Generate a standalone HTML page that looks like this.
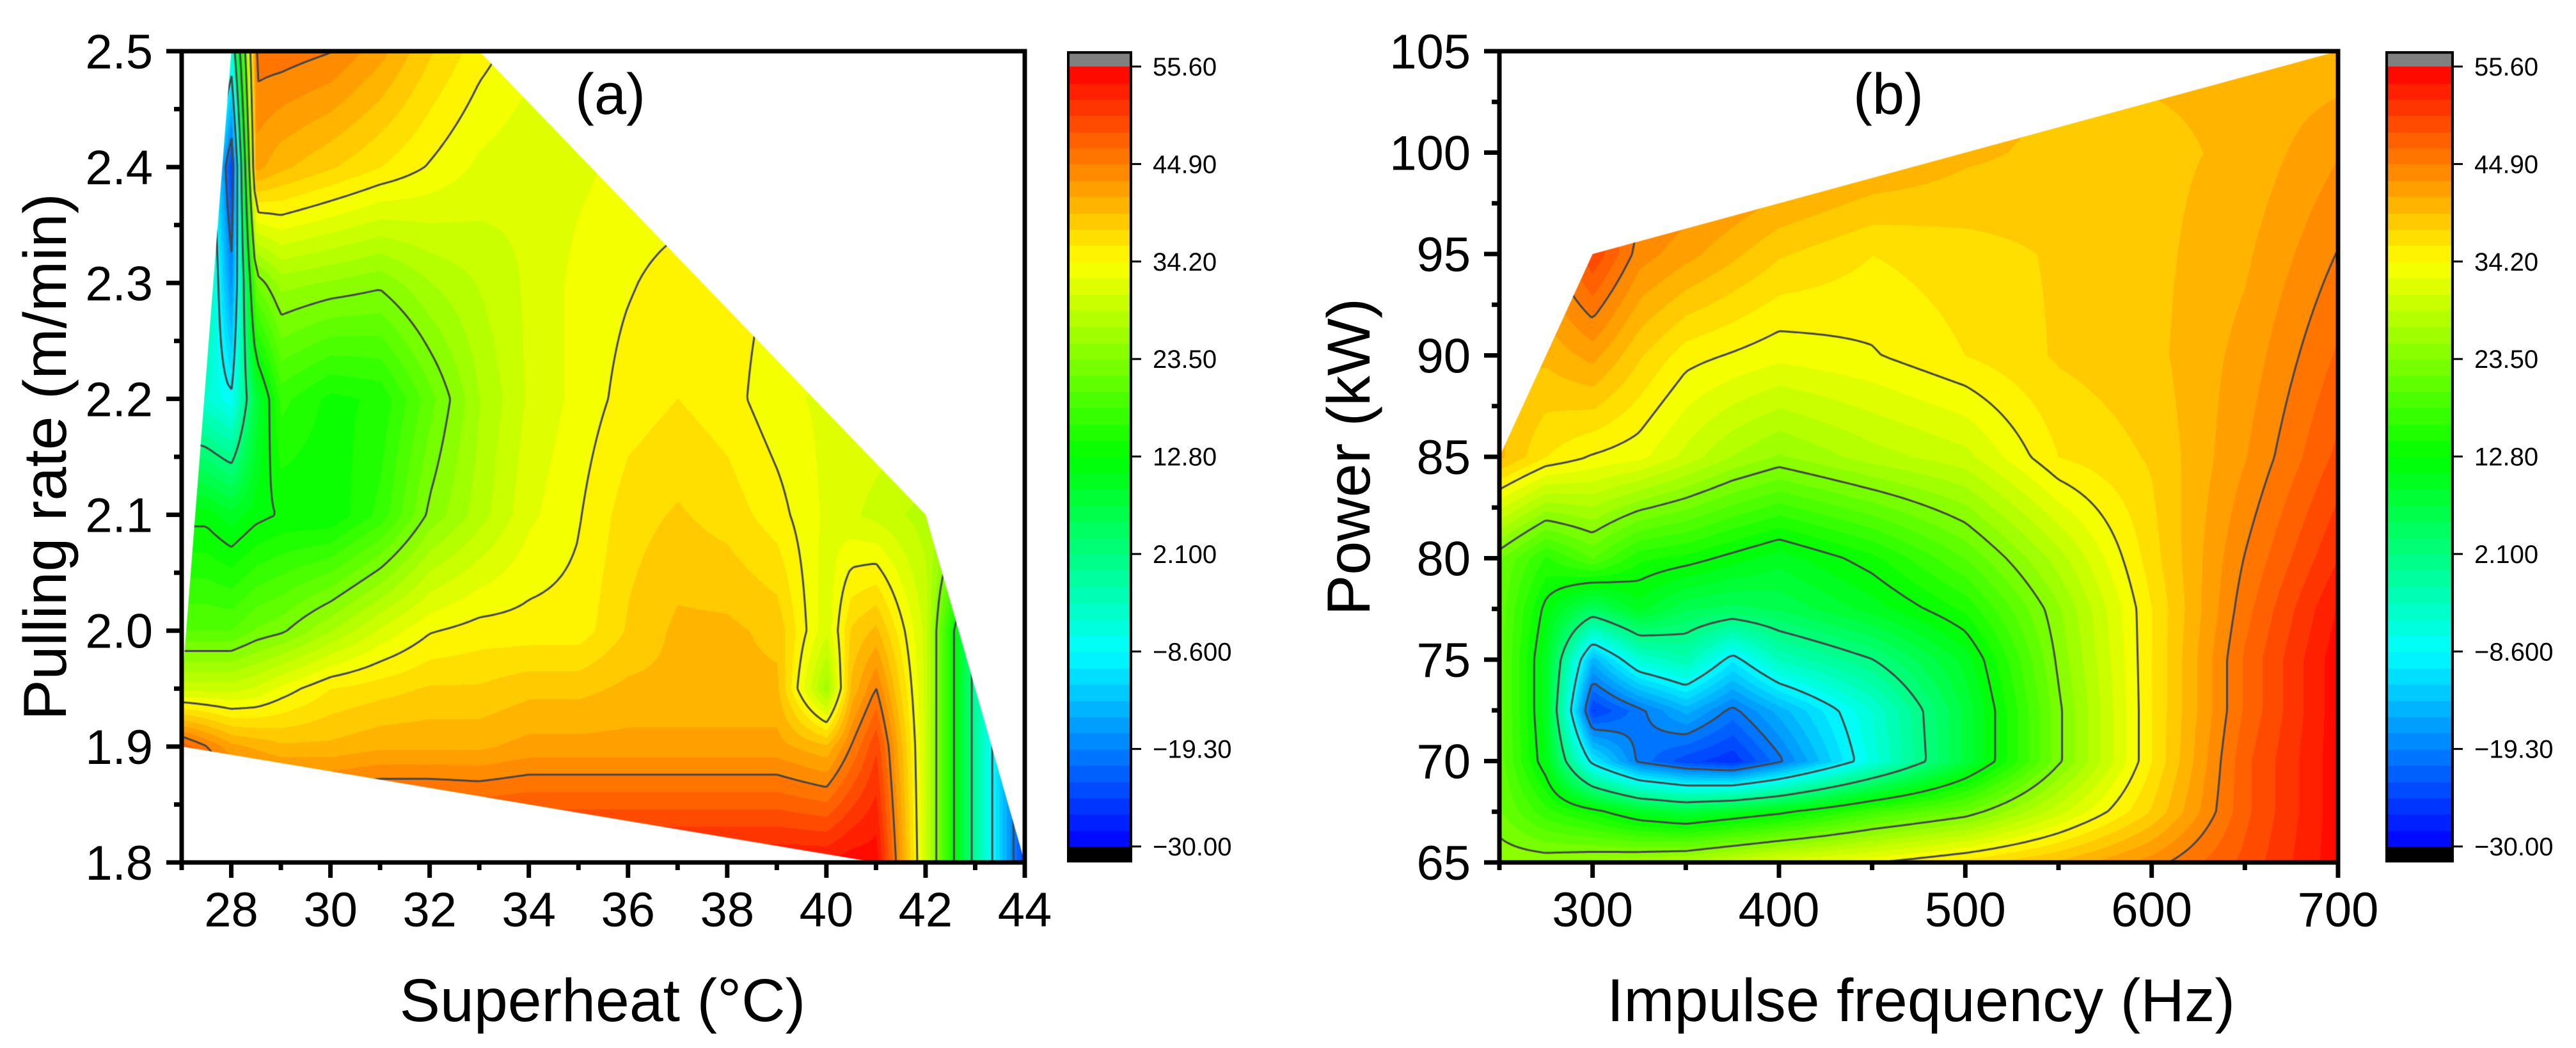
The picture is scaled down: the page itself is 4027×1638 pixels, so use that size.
<!DOCTYPE html>
<html><head><meta charset="utf-8">
<style>
html,body{margin:0;padding:0;background:#fff;}
#root{position:relative;width:4027px;height:1638px;overflow:hidden;background:#fff;font-family:"Liberation Sans",Arial,sans-serif;}
canvas{position:absolute;}
svg{position:absolute;left:0;top:0;}
</style></head>
<body>
<div id="root">
<canvas id="ca" style="left:284px;top:80px" width="1318" height="1268"></canvas>
<canvas id="cb" style="left:2344px;top:80px" width="1311" height="1268"></canvas>
<canvas id="cba" style="left:1668px;top:80px" width="102" height="1268"></canvas>
<canvas id="cbb" style="left:3729px;top:80px" width="107" height="1268"></canvas>
<svg id="ov" width="4027" height="1638"></svg>
</div>
<script>
// ---------- Panel (a) data ----------
const aX = [27,27.5,28,28.5,29,30,31,32,33,34,35,36,37,38,39,40,40.5,41,42,43,44];
const aY = [1.8,1.9,1.95,2.0,2.1,2.2,2.3,2.4,2.5];
const aZ = [
 [55,55,55,55,55,55,55,55,54,54,54,54,54,54,54,54,55,55,30,0,-25],
 [48,45,42,41,40,40,41,41,41,42,42,42,42,42,42,40,45,50,30,0,-25],
 [30,30,30,31,33,36,37,38,38,39,39,40,40,40,40,26,40,45,30,0,-25],
 [20,20,20,22,23,27,31,34,35,35,35,38,40,40,39,31,38,40,30,0,-25],
 [12,12,10,12,13,13,17,24,28,32,34,37,38,37,35,32,31,30,28,28,28],
 [-3,-5,-8,8,17,14,15,21,27,31,33,35,36,35,33,32,32,32,32,32,32],
 [5,0,-18,22,26,25,24,27,29,31,33,34,35,35,34,33,33,33,33,33,33],
 [10,0,-25,42,40,38,36,34,32,31,32,33,33,33,33,33,33,33,33,33,33],
 [40,20,-5,46,46,45,42,38,35,33,33,33,33,33,33,33,33,33,33,33,33]
];
const aMask = [[27,1.9],[27,1.95],[28,2.5],[33,2.5],[42,2.1],[44,1.8],[41,1.8]];
const aXTicks = [28,30,32,34,36,38,40,42,44];
const aYTicks = [1.8,1.9,2.0,2.1,2.2,2.3,2.4,2.5];
// ---------- Panel (b) data ----------
const bX = [250,275,300,325,350,375,400,450,500,550,600,650,700];
const bY = [65,67.5,70,72.5,75,77.5,80,85,90,95,100,105];
const bZ = [
 [25,25,26,27,28,30,32,34,37,40,44,49,55],
 [22,17,14,10,8,10,12,18,22,30,38,48,55],
 [21,11,-10,-20,-24,-26,-20,-6,8,23,36,48,55],
 [21,10,-25,-20,-15,-20,-15,-5,8,23,36,47,55],
 [21,10,-15,-5,-2,-10,-3,2,10,24,36,47,55],
 [21,12,5,10,6,5,6,10,15,25,36,46,54],
 [22,16,20,15,14,12,10,14,20,28,37,45,52],
 [40,36,34,33,30,27,25,28,30,36,38,43,49],
 [40,40,42,38,35,34,33,34,36,38,39,42,47],
 [40,44,50,44,42,40,38,36,37,38,39,41,45],
 [42,45,48,47,46,45,44,42,40,39,39,40,43],
 [42,45,48,47,46,45,44,42,41,40,40,40,40]
];
const bMask = [[250,65],[250,85],[300,95],[700,105],[700,65]];
const bXTicks = [300,400,500,600,700];
const bYTicks = [65,70,75,80,85,90,95,100,105];
// ---------- Colorbar ----------
const cbLabels = ["55.60","44.90","34.20","23.50","12.80","2.100","\u22128.600","\u221219.30","\u221230.00"];
const cbValues = [55.6,44.9,34.2,23.5,12.8,2.1,-8.6,-19.3,-30];
const ZMIN=-30, ZMAX=55.6, NB=48;
const STEP=(ZMAX-ZMIN)/NB;

const stops=[[0,0,255],[0,128,255],[0,255,255],[0,255,128],[0,255,0],[128,255,0],[255,255,0],[255,128,0],[255,0,0]];
function jet(v){let t=(v-ZMIN)/(ZMAX-ZMIN);t=Math.max(0,Math.min(1,t))*8;let i=Math.min(7,Math.floor(t));let f=t-i;let a=stops[i],b=stops[i+1];return [a[0]+(b[0]-a[0])*f,a[1]+(b[1]-a[1])*f,a[2]+(b[2]-a[2])*f];}
function bandColor(v){let k=Math.floor((v-ZMIN)/STEP);k=Math.max(0,Math.min(NB-1,k));return jet(ZMIN+(k+0.5)*STEP);}
function idx(arr,v){if(v<=arr[0])return 0;for(let i=0;i<arr.length-1;i++){if(v<=arr[i+1])return i;}return arr.length-2;}
function interp(xs,ys,Z,x,y){const i=idx(xs,x),j=idx(ys,y);let fx=(x-xs[i])/(xs[i+1]-xs[i]);let fy=(y-ys[j])/(ys[j+1]-ys[j]);fx=Math.max(0,Math.min(1,fx));fy=Math.max(0,Math.min(1,fy));
 return Z[j][i]*(1-fx)*(1-fy)+Z[j][i+1]*fx*(1-fy)+Z[j+1][i]*(1-fx)*fy+Z[j+1][i+1]*fx*fy;}

function renderPanel(cv,xs,ys,Z,x0,x1,y0,y1,mask){
 const W=cv.width,H=cv.height,ctx=cv.getContext('2d');
 const sx=px=>x0+(px/W)*(x1-x0), sy=py=>y1-(py/H)*(y1-y0);
 const fx=v=>(v-x0)/(x1-x0)*W, fy=v=>(y1-v)/(y1-y0)*H;
 const off=document.createElement('canvas');off.width=W;off.height=H;
 const octx=off.getContext('2d');const img=octx.createImageData(W,H);
 for(let py=0;py<H;py++){const yv=sy(py);for(let px=0;px<W;px++){const v=interp(xs,ys,Z,sx(px),yv);const c=bandColor(v);const o=(py*W+px)*4;img.data[o]=c[0];img.data[o+1]=c[1];img.data[o+2]=c[2];img.data[o+3]=255;}}
 octx.putImageData(img,0,0);
 ctx.save();ctx.beginPath();mask.forEach((p,k)=>{k?ctx.lineTo(fx(p[0]),fy(p[1])):ctx.moveTo(fx(p[0]),fy(p[1]));});ctx.closePath();ctx.clip();
 ctx.drawImage(off,0,0);
 const g=6,nx=Math.ceil(W/g)+1,ny=Math.ceil(H/g)+1;const F=[];
 for(let j=0;j<ny;j++){F.push([]);for(let i=0;i<nx;i++)F[j].push(interp(xs,ys,Z,sx(i*g),sy(j*g)));}
 ctx.strokeStyle='#454545';ctx.lineWidth=3;ctx.beginPath();
 cbValues.slice(1,-1).forEach(L=>{
  for(let j=0;j<ny-1;j++)for(let i=0;i<nx-1;i++){
   const a=F[j][i],b=F[j][i+1],c=F[j+1][i+1],d=F[j+1][i];const pts=[];
   const e=(p,q,xa,ya,xb,yb)=>{if((p<L)!==(q<L)){const t=(L-p)/(q-p);pts.push([xa+(xb-xa)*t,ya+(yb-ya)*t]);}};
   const X=i*g,Y=j*g;
   e(a,b,X,Y,X+g,Y);e(b,c,X+g,Y,X+g,Y+g);e(c,d,X+g,Y+g,X,Y+g);e(d,a,X,Y+g,X,Y);
   for(let k=0;k+1<pts.length;k+=2){ctx.moveTo(pts[k][0],pts[k][1]);ctx.lineTo(pts[k+1][0],pts[k+1][1]);}
  }});
 ctx.stroke();ctx.restore();
}
renderPanel(document.getElementById('ca'),aX,aY,aZ,27,44,1.8,2.5,aMask);
renderPanel(document.getElementById('cb'),bX,bY,bZ,250,700,65,105,bMask);

function renderBar(cv){const ctx=cv.getContext('2d');const W=cv.width,H=cv.height;const top=24,bot=H-25;
 ctx.fillStyle='#808080';ctx.fillRect(0,0,W,top);ctx.fillStyle='#000';ctx.fillRect(0,bot,W,H-bot);
 for(let k=0;k<NB;k++){const c=jet(ZMIN+(k+0.5)*STEP);ctx.fillStyle=`rgb(${c[0]|0},${c[1]|0},${c[2]|0})`;const yA=bot-(k+1)*(bot-top)/NB,yB=bot-k*(bot-top)/NB;ctx.fillRect(0,Math.floor(yA),W,Math.ceil(yB-yA)+1);}
 ctx.strokeStyle='#000';ctx.lineWidth=4;ctx.strokeRect(2,2,W-4,H-4);}
renderBar(document.getElementById('cba'));renderBar(document.getElementById('cbb'));

const NS='http://www.w3.org/2000/svg';const ov=document.getElementById('ov');
function el(tag,attrs,parent){const e=document.createElementNS(NS,tag);for(const k in attrs)e.setAttribute(k,attrs[k]);(parent||ov).appendChild(e);return e;}
function txt(s,attrs){const t=el('text',attrs);t.textContent=s;return t;}
function axes(L,R,T,B,x0,x1,y0,y1,xt,xminor,yt,yminor,xfmt,yfmt,name){
 const g=el('g',{});
 
 
 const fx=v=>L+(v-x0)/(x1-x0)*(R-L), fy=v=>B-(v-y0)/(y1-y0)*(B-T);
 const fr=el('rect',{x:L,y:T,width:R-L,height:B-T,fill:'none',stroke:'#000','stroke-width':7},g);
 
 
 xminor.forEach(v=>el('line',{x1:fx(v),x2:fx(v),y1:B,y2:B+12,stroke:'#000','stroke-width':7},g));
 xt.forEach(v=>{el('line',{x1:fx(v),x2:fx(v),y1:B,y2:B+24,stroke:'#000','stroke-width':7},g);
  const t=txt(xfmt(v),{x:fx(v),y:1448,'font-size':76,'text-anchor':'middle'});
  
  });
 yminor.forEach(v=>el('line',{x1:L-12,x2:L,y1:fy(v),y2:fy(v),stroke:'#000','stroke-width':7},g));
 yt.forEach(v=>{el('line',{x1:L-24,x2:L,y1:fy(v),y2:fy(v),stroke:'#000','stroke-width':7},g);
  const t=txt(yfmt(v),{x:L-45,y:fy(v)+27,'font-size':76,'text-anchor':'end'});
  
  });
}
const range=(a,b,s)=>{const r=[];for(let v=a;v<=b+1e-9;v+=s)r.push(+v.toFixed(3));return r;};
axes(284,1602,80,1348,27,44,1.8,2.5,aXTicks,range(27,43,2),aYTicks,range(1.85,2.45,0.1),v=>String(v),v=>v.toFixed(1),'panel-a');
axes(2344,3655,80,1348,250,700,65,105,bXTicks,range(250,650,100),bYTicks,range(67.5,102.5,5),v=>String(v),v=>String(v),'panel-b');

function cbLab(x0,xr,name){const top=104,bot=1323;
 cbLabels.forEach((s,k)=>{const y=top+k*(bot-top)/8;el('line',{x1:xr,x2:xr+14,y1:y,y2:y,stroke:'#000','stroke-width':3});
  const t=txt(s,{x:x0,y:y+14,'font-size':40});
  
  });}
cbLab(1802,1770,'colorbar-a');cbLab(3868,3836,'colorbar-b');

let t;
t=txt('(a)',{x:954,y:178,'font-size':90,'text-anchor':'middle'});


t=txt('(b)',{x:2952,y:178,'font-size':90,'text-anchor':'middle'});


t=txt('Superheat (\u00B0C)',{x:942,y:1596,'font-size':95,'text-anchor':'middle'});


t=txt('Impulse frequency (Hz)',{x:3003,y:1596,'font-size':95,'text-anchor':'middle'});


t=txt('Pulling rate (m/min)',{x:0,y:0,'font-size':95,'text-anchor':'middle',transform:'translate(103,714) rotate(-90)'});


t=txt('Power (kW)',{x:0,y:0,'font-size':95,'text-anchor':'middle',transform:'translate(2141,714) rotate(-90)'});


</script>
</body></html>
